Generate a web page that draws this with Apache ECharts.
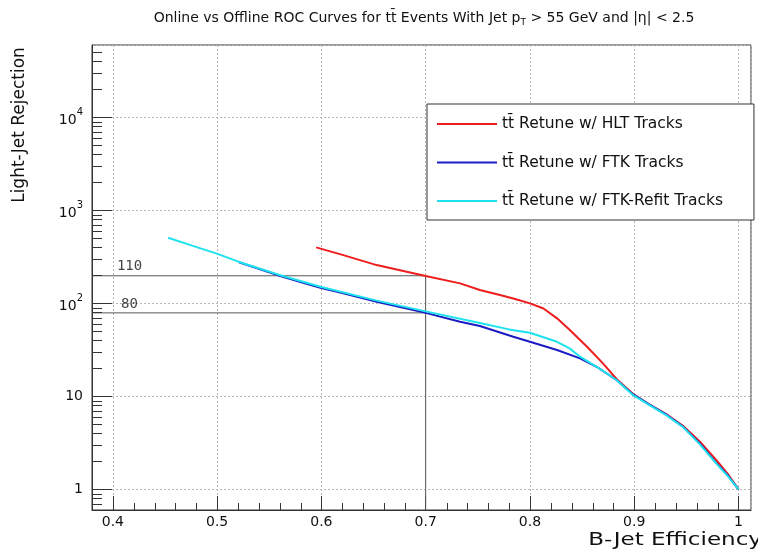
<!DOCTYPE html>
<html><head><meta charset="utf-8">
<script src="https://cdn.jsdelivr.net/npm/echarts@6/dist/echarts.min.js"></script>
<style>html,body{margin:0;padding:0;background:#fff}#c{width:758px;height:551px}</style>
</head><body><div id="c"></div>
<script>
// axis ranges
const xMin = 0.38, xMax = 1.012, yMin = 0.6, yMax = 60000;

// series names
const seriesNames = ['tt\u0304 Retune w/ HLT Tracks', 'tt\u0304 Retune w/ FTK Tracks', 'tt\u0304 Retune w/ FTK-Refit Tracks'];

// HLT tracks (red)
const hltEff = [0.595, 0.621, 0.653, 0.700, 0.733, 0.752, 0.775, 0.784, 0.800, 0.813, 0.826, 0.838, 0.855, 0.870, 0.883, 0.899, 0.915, 0.931, 0.947, 0.963, 0.979, 0.990, 1.000];
const hltRej = [400, 330, 258, 197, 164, 139, 120, 113, 100, 88, 69, 52, 34, 22.6, 15.4, 10.6, 8.1, 6.4, 4.8, 3.25, 2.05, 1.45, 1.0];

// FTK tracks (blue)
const ftkEff = [0.521, 0.563, 0.589, 0.600, 0.621, 0.653, 0.700, 0.733, 0.752, 0.784, 0.800, 0.826, 0.848, 0.864, 0.883, 0.899, 0.915, 0.931, 0.947, 0.963, 0.979, 0.990, 1.000];
const ftkRej = [277, 193, 158, 146, 128, 104, 79, 63.5, 57, 43.7, 38.6, 31.5, 25.6, 20.8, 15.0, 10.5, 8.1, 6.35, 4.7, 3.1, 1.9, 1.4, 1.0];

// FTK-Refit tracks (cyan)
const refitEff = [0.453, 0.476, 0.499, 0.521, 0.563, 0.600, 0.653, 0.700, 0.752, 0.780, 0.800, 0.826, 0.838, 0.848, 0.864, 0.883, 0.899, 0.915, 0.931, 0.947, 0.963, 0.979, 0.990, 1.000];
const refitRej = [508, 418, 345, 279, 197, 150, 107, 82, 61.5, 52.5, 48.3, 38.6, 32.8, 26.7, 20.8, 15.0, 10.3, 8.0, 6.25, 4.65, 3.05, 1.88, 1.38, 1.0];

// reference lines (working point)
const refLineRej = [198, 79];
const refLineLabels = ['110', '80'];
const refLineEff = 0.7;
const refLabelEff = 0.416;

// minor ticks
const xMinorTicks = [];
for (let k = 0; k < 30; k++) { const v = Math.round((0.40 + k * 0.02) * 100) / 100; if (Math.round(v * 100) % 10 !== 0 && v < xMax) xMinorTicks.push(v); }
const yMinorTicks = [];
[0.1, 1, 10, 100, 1000, 10000].forEach(d => { for (let m = 2; m <= 9; m++) { const v = m * d; if (v > yMin && v < yMax) yMinorTicks.push(v); } });

const FONT = 'DejaVu Sans';
const colors = ['#ee1c1c', '#1c1cc4', '#1ee3ef'];
const chart = echarts.init(document.getElementById('c'), null, { renderer: 'canvas' });

const zip = (a, b) => a.map((v, i) => [v, b[i]]);

const option = {
  backgroundColor: '#fff',
  animation: false,
  grid: { left: 92, top: 45, right: 7, bottom: 41, show: true, borderColor: '#333', borderWidth: 1, backgroundColor: 'transparent' },
  xAxis: {
    type: 'value', min: xMin, max: xMax,
    axisLine: { show: true, onZero: false, lineStyle: { color: '#333', width: 1 } },
    axisTick: { show: true, inside: true, length: 14, lineStyle: { color: '#333' } },
    axisLabel: { show: true, margin: 5, fontFamily: FONT, fontSize: 14, color: '#111', showMinLabel: false, showMaxLabel: false,
      formatter: v => (Math.abs(v - 1) < 1e-9 ? '1' : String(Math.round(v * 10) / 10)) },
    splitLine: { show: true, lineStyle: { color: '#b8b8b8', type: [2, 2], width: 1 } }
  },
  yAxis: {
    type: 'log', logBase: 10, min: yMin, max: yMax,
    axisLine: { show: true, lineStyle: { color: '#333', width: 1 } },
    axisTick: { show: true, inside: true, length: 20, lineStyle: { color: '#333' } },
    axisLabel: { show: true, margin: 9, fontFamily: FONT, fontSize: 14, color: '#111', showMinLabel: false, showMaxLabel: false,
      formatter: v => { const e = Math.round(Math.log10(v)); if (e === 0) return '1'; if (e === 1) return '10'; return '{b|10}{s|' + e + '}'; },
      rich: { b: { fontFamily: FONT, fontSize: 14, color: '#111', lineHeight: 20, verticalAlign: 'bottom' },
              s: { fontFamily: FONT, fontSize: 10, color: '#111', lineHeight: 12, verticalAlign: 'top' } } },
    splitLine: { show: true, lineStyle: { color: '#b8b8b8', type: [2, 2], width: 1 } }
  },
  legend: {
    data: seriesNames.map((n, i) => ({ name: n, icon: 'rect', itemStyle: { color: colors[i] } })),
    orient: 'vertical', left: 427, top: 104,
    padding: [12, 31, 11, 10], itemWidth: 60, itemHeight: 2, itemGap: 22.5,
    backgroundColor: '#fff', borderColor: '#333', borderWidth: 1, borderRadius: 0,
    textStyle: { fontFamily: FONT, fontSize: 15.5, color: '#111' },
    selectedMode: false
  },
  graphic: [
    { type: 'text', x: 424, y: 18, z: 10, style: {
        text: 'Online vs Offline ROC Curves for tt\u0304 Events With Jet p{s|T} > 55 GeV and |\u03b7| < 2.5',
        fontFamily: FONT, fontSize: 14, fill: '#111', textAlign: 'center', textVerticalAlign: 'middle',
        rich: { s: { fontFamily: FONT, fontSize: 9, fill: '#111', padding: [10, 0, 0, 0], verticalAlign: 'bottom' } } } },
    { type: 'text', x: 20, y: 125, rotation: Math.PI / 2, z: 10, style: {
        text: 'Light-Jet Rejection', fontFamily: FONT, fontSize: 17, fill: '#111', textAlign: 'center', textVerticalAlign: 'middle' } },
    { type: 'text', x: 762, y: 540, scaleX: 1.28, z: 10, style: {
        text: 'B-Jet Efficiency', fontFamily: FONT, fontSize: 18, fill: '#111', textAlign: 'right', textVerticalAlign: 'middle' } }
  ],
  series: [
    { type: 'line', name: 'refH', data: [[xMin, refLineRej[0]], [refLineEff, refLineRej[0]]], symbol: 'none', silent: true, lineStyle: { color: '#555', width: 1 }, z: 3 },
    { type: 'line', name: 'refL', data: [[xMin, refLineRej[1]], [refLineEff, refLineRej[1]]], symbol: 'none', silent: true, lineStyle: { color: '#555', width: 1 }, z: 3 },
    { type: 'line', name: 'refV', data: [[refLineEff, refLineRej[0]], [refLineEff, yMin]], symbol: 'none', silent: true, lineStyle: { color: '#555', width: 1 }, z: 3 },
    { type: 'scatter', name: 'refLbl', data: refLineRej.map((r, i) => ({ value: [refLabelEff, r], label: { formatter: refLineLabels[i] } })),
      symbolSize: 0, silent: true, z: 4,
      label: { show: true, position: 'inside', offset: [0, -9], fontFamily: 'DejaVu Sans Mono', fontSize: 14, color: '#111' } },
    { type: 'custom', name: 'xMinor', silent: true, z: 5, clip: false, data: xMinorTicks.map(v => [v, yMin]),
      renderItem: (p, api) => { const c = api.coord([api.value(0), api.value(1)]); const x = Math.round(c[0]) + 0.5;
        return { type: 'line', shape: { x1: x, y1: c[1], x2: x, y2: c[1] - 7 }, style: { stroke: '#333', lineWidth: 1 } }; } },
    { type: 'custom', name: 'yMinor', silent: true, z: 5, clip: false, data: yMinorTicks.map(v => [xMin, v]),
      renderItem: (p, api) => { const c = api.coord([api.value(0), api.value(1)]); const y = Math.round(c[1]) + 0.5;
        return { type: 'line', shape: { x1: c[0], y1: y, x2: c[0] + 10, y2: y }, style: { stroke: '#333', lineWidth: 1 } }; } },
    { type: 'line', name: seriesNames[0], data: zip(hltEff, hltRej), symbol: 'none', showSymbol: false, smooth: false, z: 6,
      lineStyle: { color: colors[0], width: 2 }, itemStyle: { color: colors[0] } },
    { type: 'line', name: seriesNames[1], data: zip(ftkEff, ftkRej), symbol: 'none', showSymbol: false, smooth: false, z: 7,
      lineStyle: { color: colors[1], width: 2 }, itemStyle: { color: colors[1] } },
    { type: 'line', name: seriesNames[2], data: zip(refitEff, refitRej), symbol: 'none', showSymbol: false, smooth: false, z: 8,
      lineStyle: { color: colors[2], width: 2 }, itemStyle: { color: colors[2] } }
  ]
};
chart.setOption(option);
</script>
</body></html>
